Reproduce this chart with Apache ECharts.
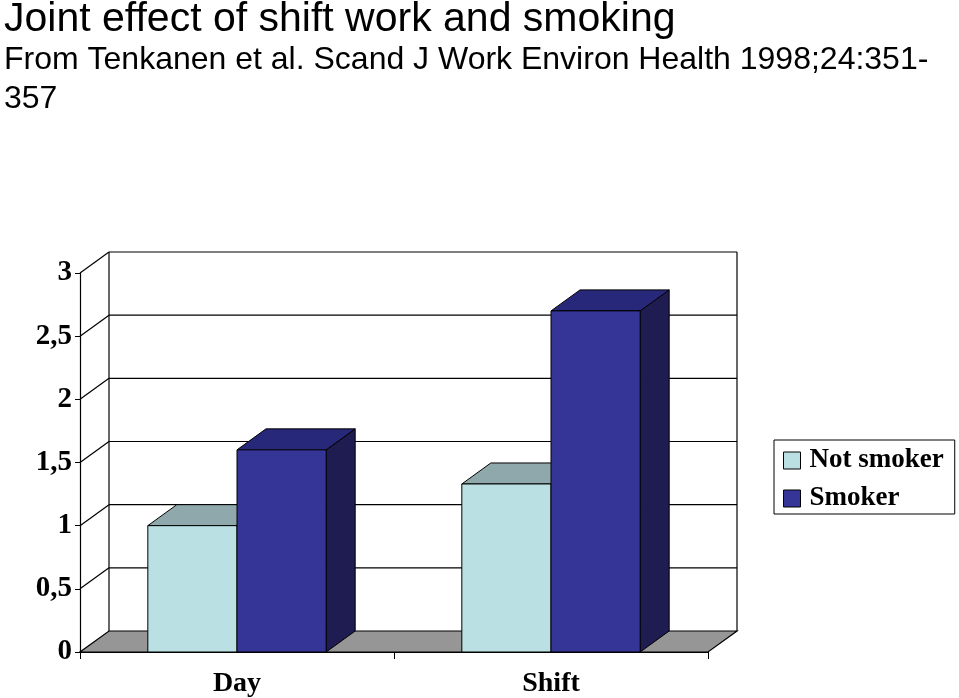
<!DOCTYPE html>
<html>
<head>
<meta charset="utf-8">
<script src="https://cdn.jsdelivr.net/npm/echarts@6/dist/echarts.min.js"></script>
<style>
  html, body { margin: 0; padding: 0; background: #fff; }
  #chart { width: 959px; height: 698px; }
</style>
</head>
<body>
<div id="chart"></div>
<script>
// data
var categories = ['Day', 'Shift'];
var notSmoker = [1.0, 1.33];
var smoker = [1.6, 2.7];
var yTicks = [0, 0.5, 1, 1.5, 2, 2.5, 3];

// 3d depth offset in pixels
var DX = 29, DY = -21;

var chart = echarts.init(document.getElementById('chart'));

function wallItem(params, api) {
    var cs = params.coordSys;
    var v = api.value(0);
    var y = api.coord([0, v])[1];
    var xl = cs.x, xr = cs.x + cs.width;
    var line = { stroke: '#000', lineWidth: 1.2 };
    var children = [];
    if (v === 0) {
        children.push({
            type: 'polygon',
            shape: { points: [[xl, y], [xr, y], [xr + DX, y + DY], [xl + DX, y + DY]] },
            style: { fill: '#969696', stroke: '#000', lineWidth: 1.2 }
        });
        var top = api.coord([0, yTicks[yTicks.length - 1]])[1];
        children.push({
            type: 'line',
            shape: { x1: xl + DX, y1: y + DY, x2: xl + DX, y2: top + DY },
            style: line
        });
        children.push({
            type: 'line',
            shape: { x1: xr + DX, y1: y + DY, x2: xr + DX, y2: top + DY },
            style: line
        });
    } else {
        children.push({
            type: 'line',
            shape: { x1: xl, y1: y, x2: xl + DX, y2: y + DY },
            style: line
        });
        children.push({
            type: 'line',
            shape: { x1: xl + DX, y1: y + DY, x2: xr + DX, y2: y + DY },
            style: line
        });
    }
    return { type: 'group', children: children };
}

function barRenderer(slot, front, topC, side) {
    return function (params, api) {
        var idx = api.value(0);
        var val = api.value(1);
        var band = api.size([1, 0])[0];
        var w = band * 0.284;
        var base = api.coord([idx, 0]);
        var y1 = api.coord([idx, val])[1];
        var y0 = base[1];
        var x0 = base[0] - w + slot * w;
        var x1 = x0 + w;
        var edge = { stroke: '#000', lineWidth: 1 };
        return {
            type: 'group',
            children: [
                {
                    type: 'polygon',
                    shape: { points: [[x1, y1], [x1 + DX, y1 + DY], [x1 + DX, y0 + DY], [x1, y0]] },
                    style: Object.assign({ fill: side }, edge)
                },
                {
                    type: 'polygon',
                    shape: { points: [[x0, y1], [x1, y1], [x1 + DX, y1 + DY], [x0 + DX, y1 + DY]] },
                    style: Object.assign({ fill: topC }, edge)
                },
                {
                    type: 'rect',
                    shape: { x: x0, y: y1, width: w, height: y0 - y1 },
                    style: Object.assign({ fill: front }, edge)
                }
            ]
        };
    };
}

var option = {
    animation: false,
    backgroundColor: '#fff',
    title: [
        {
            text: 'Joint effect of shift work and smoking',
            left: 4, top: 0, padding: 0,
            textStyle: { fontFamily: 'Liberation Sans', fontSize: 41, fontWeight: 'normal', color: '#000', lineHeight: 40 }
        },
        {
            text: 'From Tenkanen et al. Scand J Work Environ Health 1998;24:351-\n357',
            left: 4, top: 41, padding: 0,
            textStyle: { fontFamily: 'Liberation Sans', fontSize: 32, fontWeight: 'normal', color: '#000', lineHeight: 39 }
        }
    ],
    legend: {
        data: ['Not smoker', 'Smoker'],
        orient: 'vertical',
        left: 774, top: 440,
        padding: [7, 11, 2, 9],
        itemWidth: 17, itemHeight: 17,
        itemGap: 11,
        icon: 'rect',
        borderColor: '#000', borderWidth: 1,
        itemStyle: { borderColor: '#000', borderWidth: 1 },
        textStyle: { fontFamily: 'Liberation Serif', fontWeight: 'bold', fontSize: 27, color: '#000', padding: [0, 0, 0, 4] }
    },
    grid: { left: 80, right: 251, top: 273, bottom: 45 },
    xAxis: {
        type: 'category',
        data: categories,
        axisLine: { show: true, lineStyle: { color: '#000', width: 1.2 } },
        axisTick: { show: true, length: 7, lineStyle: { color: '#000' } },
        axisLabel: { fontFamily: 'Liberation Serif', fontWeight: 'bold', fontSize: 28, color: '#000', margin: 18 },
        splitLine: { show: false }
    },
    yAxis: {
        type: 'value',
        min: 0, max: 3, interval: 0.5,
        axisLine: { show: true, lineStyle: { color: '#000', width: 1.2 } },
        axisTick: { show: true, length: 5, lineStyle: { color: '#000' } },
        axisLabel: {
            fontFamily: 'Liberation Serif', fontWeight: 'bold', fontSize: 29, color: '#000', margin: 8,
            formatter: function (v) { return String(v).replace('.', ','); }
        },
        splitLine: { show: false }
    },
    series: [
        {
            name: 'wall',
            type: 'custom',
            renderItem: wallItem,
            data: yTicks.map(function (v) { return [v]; }),
            encode: { y: 0 },
            silent: true,
            z: 1
        },
        {
            name: 'Not smoker',
            type: 'custom',
            itemStyle: { color: '#BAE0E3', borderColor: '#000', borderWidth: 1 },
            renderItem: barRenderer(0, '#BAE0E3', '#8FA8AB', '#6E8A8C'),
            data: notSmoker.map(function (v, i) { return [i, v]; }),
            encode: { x: 0, y: 1 },
            z: 3
        },
        {
            name: 'Smoker',
            type: 'custom',
            itemStyle: { color: '#353598', borderColor: '#000', borderWidth: 1 },
            renderItem: barRenderer(1, '#353598', '#28287A', '#1E1C50'),
            data: smoker.map(function (v, i) { return [i, v]; }),
            encode: { x: 0, y: 1 },
            z: 4
        }
    ]
};

chart.setOption(option);
</script>
</body>
</html>
